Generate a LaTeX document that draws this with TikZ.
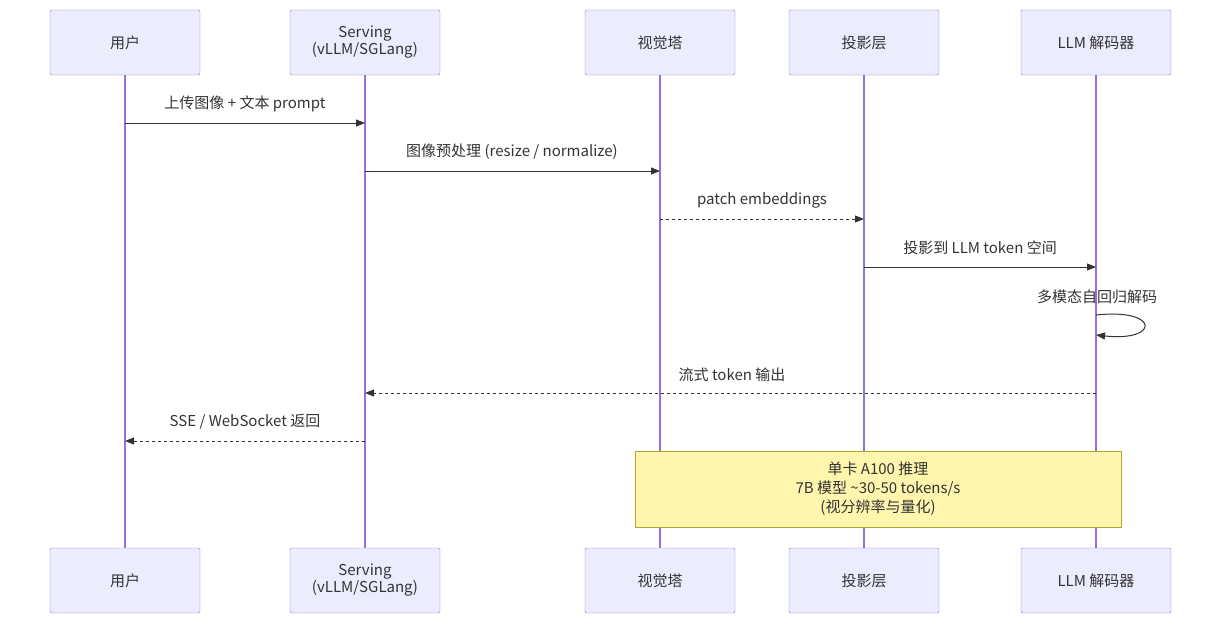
\documentclass[tikz,border=0pt]{standalone}
\usepackage{fontspec}
\setmainfont{Noto Sans CJK SC}
\usetikzlibrary{arrows.meta}
\definecolor{actfill}{HTML}{ECECFF}
\definecolor{actline}{HTML}{9370DB}
\definecolor{txt}{HTML}{333333}
\definecolor{notefill}{HTML}{FFF5AD}
\definecolor{noteline}{HTML}{AAAA33}
\begin{document}
\begin{tikzpicture}[x=1pt,y=-1pt,
  actor/.style={draw=actline,fill=actfill,minimum width=150pt,minimum height=65pt,rounded corners=2pt,align=center,font=\fontsize{15}{16}\selectfont,text=txt,inner sep=0pt},
  life/.style={draw=actline,line width=1.2pt},
  msg/.style={draw=txt,line width=1pt,-{Triangle[length=9pt,width=7pt]}},
  dmsg/.style={msg,dash pattern=on 3pt off 3pt},
  lbl/.style={font=\fontsize{15}{16}\selectfont,text=txt,inner sep=0pt}]
\useasboundingbox (0,0) rectangle (1222,624);
\foreach \n/\x/\t in {u/125/用户,s/365/{Serving\\(vLLM/SGLang)},v/660/视觉塔,p/864/投影层,l/1096/LLM 解码器}{
  \node[actor] (\n t) at (\x,42.5) {\t};
  \node[actor] (\n b) at (\x,580.5) {\t};
  \draw[life] (\n t.south) -- (\n b.north);
}
\coordinate (u1) at (125,123); \coordinate (s1) at (365,123);
\coordinate (s2) at (365,171); \coordinate (v2) at (660,171);
\coordinate (v3) at (660,219); \coordinate (p3) at (864,219);
\coordinate (p4) at (864,267); \coordinate (l4) at (1096,267);
\coordinate (l5a) at (1096,315); \coordinate (l5b) at (1096,335);
\coordinate (l6) at (1096,393); \coordinate (s6) at (365,393);
\coordinate (s7) at (365,441); \coordinate (u7) at (125,441);
\draw[msg] (u1) -- (s1); \node[lbl] (m1) at (245,104) {上传图像 + 文本 prompt};
\draw[msg] (s2) -- (v2); \node[lbl] (m2) at (512,152) {图像预处理 (resize / normalize)};
\draw[dmsg] (v3) -- (p3); \node[lbl] (m3) at (762,200) {patch embeddings};
\draw[msg] (p4) -- (l4); \node[lbl] (m4) at (980,248) {投影到 LLM token 空间};
\draw[msg] (l5a) .. controls (1160,308) and (1160,342) .. (l5b);
\node[lbl] (m5) at (1097,297) {多模态自回归解码};
\draw[dmsg] (l6) -- (s6); \node[lbl] (m6) at (732,375) {流式 token 输出};
\draw[dmsg] (s7) -- (u7); \node[lbl] (m7) at (245,422) {SSE / WebSocket 返回};
\node[draw=noteline,fill=notefill,minimum width=486pt,minimum height=76pt,align=center,font=\fontsize{15}{19}\selectfont,text=txt] (note) at (878,489) {单卡 A100 推理\\7B 模型 \textasciitilde30-50 tokens/s\\(视分辨率与量化)};
\end{tikzpicture}
\end{document}
